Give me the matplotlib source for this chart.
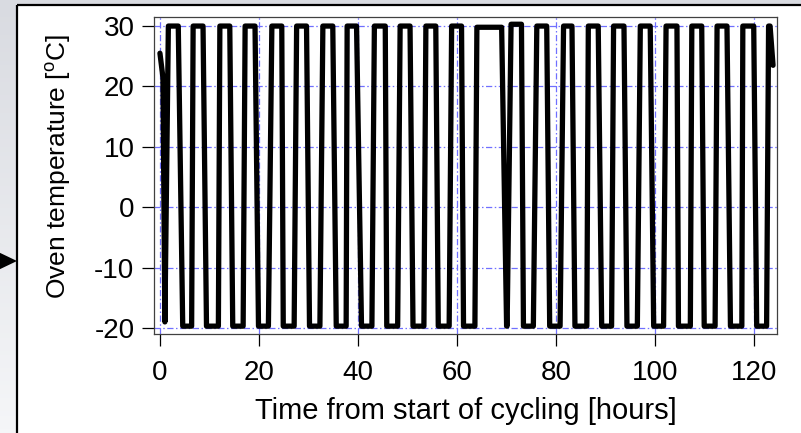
import numpy as np
import matplotlib
matplotlib.use("Agg")
import matplotlib.pyplot as plt
from matplotlib.patches import Polygon, Rectangle

plt.rcParams["font.family"] = ["Liberation Sans", "DejaVu Sans"]
plt.rcParams["mathtext.fontset"] = "custom"
plt.rcParams["mathtext.rm"] = "Liberation Sans"
plt.rcParams["axes.unicode_minus"] = False

# start of the record (hours, degC)
start_t = [0.0, 0.6, 1.0]
start_temp = [25.5, 21.5, -19.0]

# hot dwell of each cycle: (begin, end) in hours
hot_begin = [1.7, 6.7, 12.1, 17.2, 22.6, 27.6, 32.9, 37.8, 43.3, 48.5, 53.7, 58.9,
             64.0, 70.9, 76.1, 81.5, 86.5, 91.6, 97.0, 102.2, 107.4, 112.5, 117.7, 122.9]
hot_end = [3.7, 8.7, 14.1, 19.2, 24.6, 29.6, 34.9, 39.7, 45.5, 50.5, 55.7, 60.9,
           69.0, 73.0, 78.1, 83.2, 88.5, 93.7, 99.0, 104.4, 109.4, 114.5, 119.9, 123.2]
hot_temp = [30.0, 30.0, 30.0, 30.0, 30.0, 30.0, 30.0, 30.0, 30.0, 30.0, 30.0, 30.0,
            29.8, 30.3, 30.0, 30.0, 30.0, 30.0, 30.0, 30.0, 30.0, 30.0, 30.0, 30.0]

# cold dwell of each cycle: (begin, end) in hours
cold_begin = [4.6, 9.4, 14.7, 19.9, 24.9, 30.2, 35.6, 40.7, 45.8, 51.1, 56.2, 61.3,
              70.0, 73.4, 78.7, 83.8, 89.2, 94.3, 99.7, 104.7, 109.9, 115.2, 120.5]
cold_end = [6.4, 11.8, 16.8, 21.9, 27.1, 32.3, 37.6, 42.8, 48.0, 53.3, 58.4, 63.6,
            70.1, 75.4, 80.8, 86.2, 91.2, 96.4, 101.7, 107.1, 112.1, 117.5, 122.5]
cold_temp = -19.7

# end of the record
end_t = [123.8]
end_temp = [23.5]

x_ticks = [0, 20, 40, 60, 80, 100, 120]
y_ticks = [-20, -10, 0, 10, 20, 30]

# assemble the trace
t = list(start_t)
temp = list(start_temp)
for i in range(len(hot_begin)):
    t += [hot_begin[i], hot_end[i]]
    temp += [hot_temp[i], hot_temp[i]]
    if i < len(cold_begin):
        t += [cold_begin[i], cold_end[i]]
        temp += [cold_temp, cold_temp]
t += end_t
temp += end_temp

W, H = 801, 433
fig = plt.figure(figsize=(W / 100, H / 100), dpi=100)

# slide-style backdrop
bg = fig.add_axes([0, 0, 1, 1])
bg.set_xlim(0, W)
bg.set_ylim(H, 0)
bg.axis("off")
grad = np.linspace(0, 1, 100)[:, None]
bg.imshow(grad, cmap=matplotlib.colors.LinearSegmentedColormap.from_list(
    "g", ["#d9dbe1", "#f5f6f8"]), extent=[0, W, H, 0], aspect="auto", zorder=0)
bg.add_patch(Rectangle((17, 5), W, H, facecolor="white", edgecolor="none", zorder=1))
bg.plot([17, W], [5, 5], color="black", lw=1.6, zorder=2, solid_capstyle="butt")
bg.plot([17, 17], [5, H], color="black", lw=1.6, zorder=2, solid_capstyle="butt")
bg.add_patch(Polygon([(-6, 250), (17, 261), (-6, 272)], closed=True,
                     facecolor="black", edgecolor="none", zorder=3))

left, right, top, bottom = 154, 777, 17, 334
ax = fig.add_axes([left / W, 1 - bottom / H, (right - left) / W, (bottom - top) / H])
ax.plot(t, temp, color="black", lw=3.8, solid_joinstyle="round",
        solid_capstyle="round", zorder=3)

ax.set_xlim(-1.2, 124.6)
ax.set_ylim(-21.0, 31.5)
ax.set_xticks(x_ticks)
ax.set_yticks(y_ticks)
ax.grid(True, color="#7070ff", lw=0.9, linestyle=(0, (5, 2, 1.2, 2)), zorder=1)
ax.set_axisbelow(True)
for s in ax.spines.values():
    s.set_color("#404040")
    s.set_linewidth(0.9)
ax.tick_params(direction="out", length=8.6, width=0.9, color="black",
               labelsize=20, pad=5.5)
ax.tick_params(axis="x", pad=10)
ax.set_xlabel("Time from start of cycling [hours]", fontsize=21)
ax.set_ylabel(r"Oven temperature [$^{\mathrm{o}}$C]", fontsize=19)
ax.xaxis.set_label_coords(0.5, -0.200)
ax.yaxis.set_label_coords(-0.130, 0.53)

fig.savefig("out.png", dpi=100)
